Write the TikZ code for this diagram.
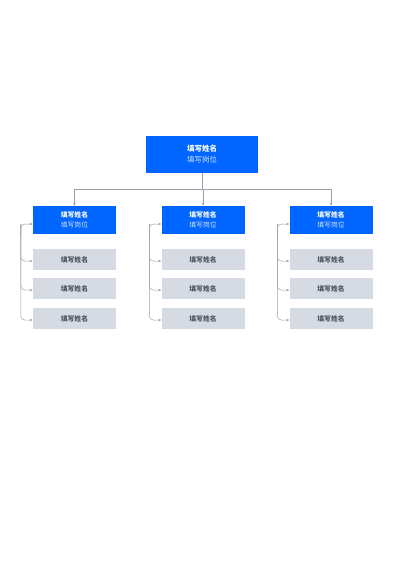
\documentclass[tikz,border=0pt]{standalone}
\usepackage{fontspec}
\setmainfont{Noto Sans CJK SC}
\usetikzlibrary{arrows.meta,calc}
\definecolor{chiefblue}{HTML}{0066FF}
\definecolor{staffgrey}{HTML}{D6DBE3}
\definecolor{staffink}{HTML}{4A515C}
\definecolor{linkgrey}{HTML}{9AA2AC}
\definecolor{postink}{HTML}{D2E3FF}
\tikzset{
  chief/.style={fill=chiefblue, text=white, minimum width=112pt, minimum height=37pt, inner sep=0pt, align=center, font=\fontsize{7.5}{11}\selectfont},
  lead/.style={fill=chiefblue, text=white, minimum width=83pt, minimum height=28pt, inner sep=0pt, align=center, font=\fontsize{6.8}{10}\selectfont},
  staff/.style={fill=staffgrey, text=staffink, minimum width=83pt, minimum height=21pt, inner sep=0pt, font=\fontsize{6.8}{10}\selectfont\bfseries},
  link/.style={draw=linkgrey, line width=0.5pt, -{Stealth[length=3pt,width=2.5pt]}},
  fork/.style={link, rounded corners=4pt}
}
\begin{document}
\begin{tikzpicture}[x=1pt,y=-1pt]
  \useasboundingbox (0,0) rectangle (400,566);
  % top
  \node[chief] (boss) at (202,154.5) {\textbf{填写姓名}\\{\color{postink}填写岗位}};
  \coordinate (bar) at (202,189);
  % second level
  \foreach \n/\x in {a/74.5, b/203, c/331}{
    \node[lead] (\n) at (\x,220) {\textbf{填写姓名}\\{\color{postink}填写岗位}};
    \draw[link] (bar) -| (\n.north);
    \foreach \i/\y in {1/259.5, 2/288.5, 3/318.5}
      \node[staff] (\n\i) at (\x,\y) {填写姓名};
    \coordinate (\n top) at ($(\n.west)+(-12,4)$);
    \draw[fork] ($(\n top)+(0,12)$) |- ($(\n.west)+(0,4)$);
    \foreach \i in {1,2,3}
      \draw[fork] (\n top) |- ($(\n\i.west)+(0,1.5)$);
  }
  \draw[linkgrey, line width=0.5pt] (boss.south) -- (bar);
\end{tikzpicture}
\end{document}
